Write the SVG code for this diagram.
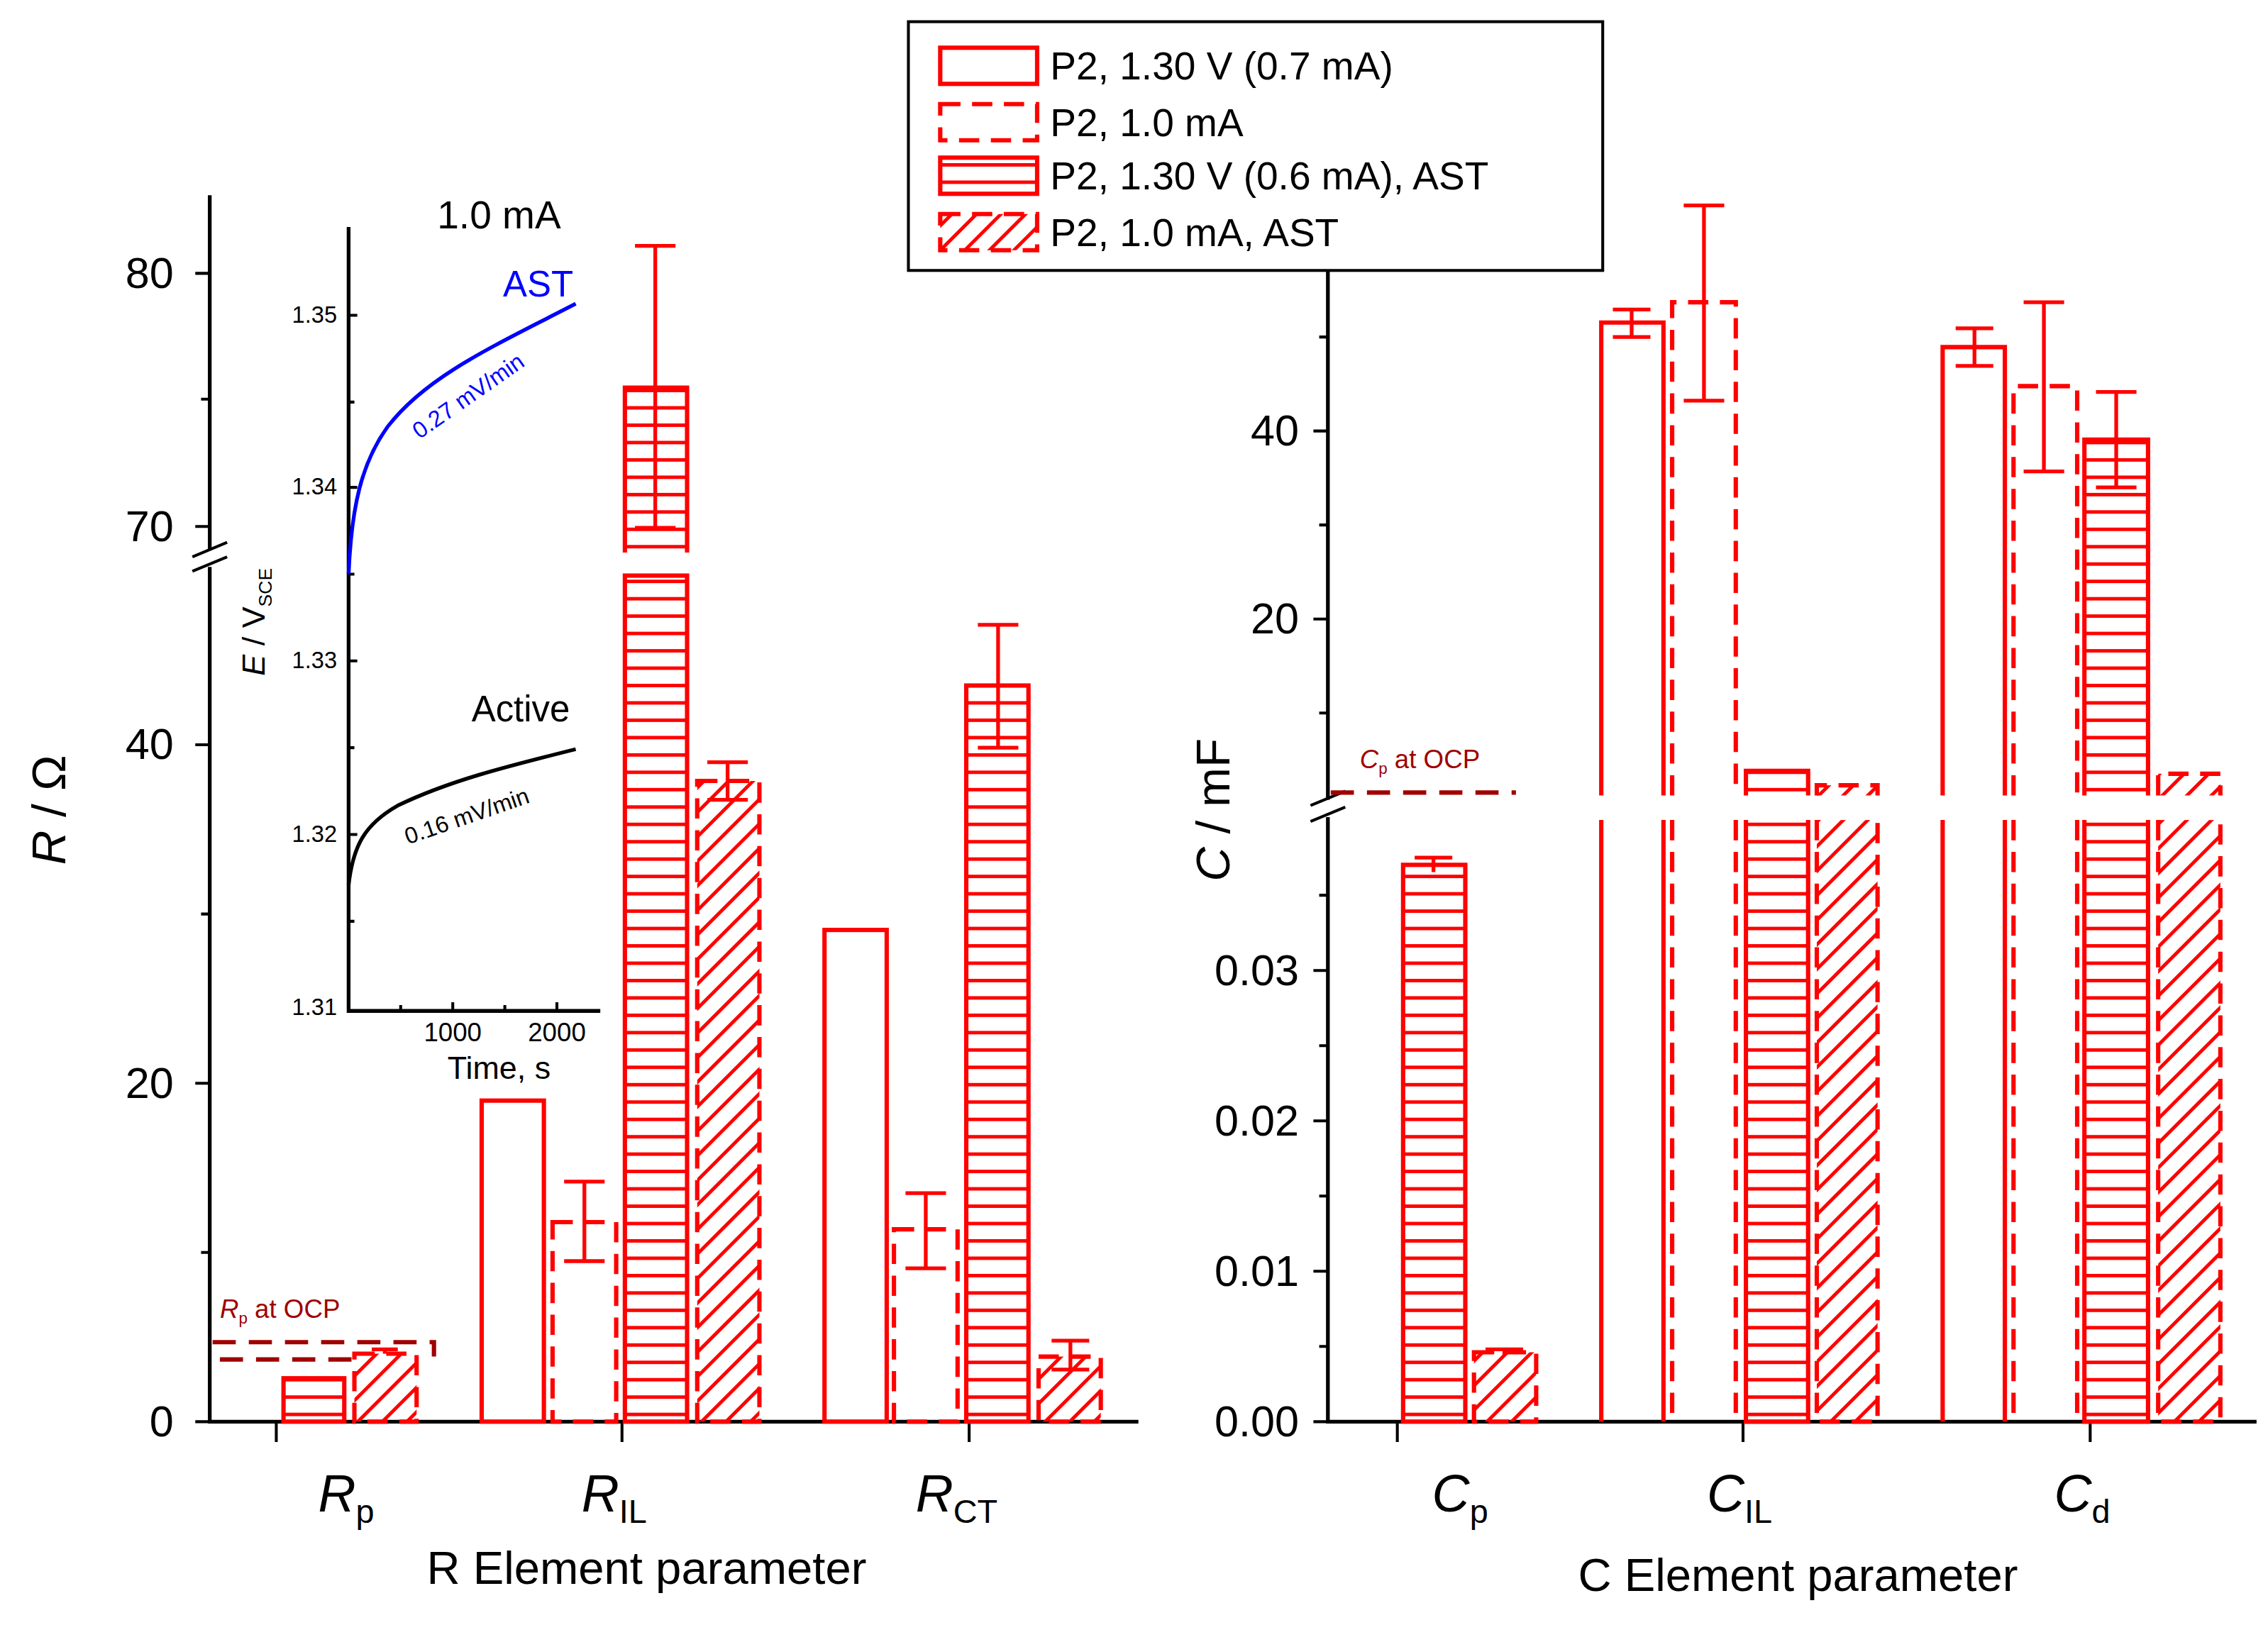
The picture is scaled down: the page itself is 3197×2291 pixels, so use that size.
<svg xmlns="http://www.w3.org/2000/svg" width="3197" height="2291" viewBox="0 0 3197 2291">
<style>
.ax{stroke:#000;stroke-width:2.6;fill:none}
.tk{stroke:#000;stroke-width:2;fill:none}
.b{stroke:#f00;stroke-width:3;fill:none}
.d{stroke:#f00;stroke-width:3;fill:none;stroke-dasharray:14 8}
.e{stroke:#f00;stroke-width:2.6;fill:none}
.ocp{stroke:#a00000;stroke-width:3;fill:none;stroke-dasharray:16 9}
.hh{fill:url(#hh)}
.dg{fill:url(#dg)}
text{font-family:"Liberation Sans",Arial,sans-serif}
.tl{font-size:30px;text-anchor:end}
.it{font-style:italic}
</style>
<defs>
<pattern id="hh" patternUnits="userSpaceOnUse" width="10" height="12"><line x1="0" y1="6" x2="10" y2="6" stroke="#f00" stroke-width="2.4"/></pattern>
<pattern id="dg" patternUnits="userSpaceOnUse" width="10" height="12" patternTransform="rotate(-45)"><line x1="0" y1="6" x2="10" y2="6" stroke="#f00" stroke-width="2.4"/></pattern>
</defs>
<rect width="3197" height="2291" fill="#fff"/>
<g transform="scale(2.039)">
<g id="left-axes">
<path class="ax" d="M145,135 V983 H787"/>
<path class="tk" d="M135,983H145M135,749H145M135,515H145M135,364H145M135,189H145M139,866H145M139,632H145M139,276H145"/>
<path class="tk" d="M191,983V997M430,983V997M670,983V997"/>
<rect x="136" y="380" width="20" height="12" fill="#fff"/>
<path class="tk" d="M133,385L157,375M133,395L157,385"/>
<text class="tl" x="120" y="993">0</text>
<text class="tl" x="120" y="759">20</text>
<text class="tl" x="120" y="525">40</text>
<text class="tl" x="120" y="374">70</text>
<text class="tl" x="120" y="199">80</text>
<text transform="translate(45,560) rotate(-90)" font-size="33" text-anchor="middle"><tspan class="it">R</tspan> / Ω</text>
<text x="220" y="1045" font-size="36" class="it">R<tspan font-size="23" dy="8" font-style="normal">p</tspan></text>
<text x="402" y="1045" font-size="36" class="it">R<tspan font-size="23" dy="8" font-style="normal">IL</tspan></text>
<text x="633" y="1045" font-size="36" class="it">R<tspan font-size="23" dy="8" font-style="normal">CT</tspan></text>
<text x="447" y="1095" font-size="32" text-anchor="middle">R Element parameter</text>
</g>
<g id="rp-ocp">
<path class="ocp" d="M147,928H300V938"/>
<path class="ocp" d="M152,940H245"/>
<text x="152" y="911" font-size="18" fill="#a00000"><tspan class="it">R</tspan><tspan font-size="11" dy="4">p</tspan><tspan dy="-4"> at OCP</tspan></text>
</g>
<g id="bars-rp">
<rect x="196" y="953" width="42" height="30" class="b hh"/>
<rect x="245" y="936" width="43" height="47" class="d dg"/>
<path class="e" d="M266,936V933M257,933H275"/>
</g>
<g id="bars-ril">
<rect x="333" y="761" width="43" height="222" class="b"/>
<rect x="382" y="845" width="44" height="138" class="d"/>
<path class="e" d="M404,817V872M390,817H418M390,872H418"/>
<rect x="432" y="268" width="43" height="114" class="hh"/>
<path class="b" d="M432,382V268H475V382"/>
<rect x="432" y="398" width="43" height="585" class="b hh"/>
<path class="e" d="M453,170V365M439,170H467M439,365H467"/>
<rect x="482" y="540" width="43" height="443" class="d dg"/>
<path class="e" d="M503,527V553M489,527H517M489,553H517"/>
</g>
<g id="bars-rct">
<rect x="570" y="643" width="43" height="340" class="b"/>
<rect x="618" y="850" width="44" height="133" class="d"/>
<path class="e" d="M640,825V877M626,825H654M626,877H654"/>
<rect x="668" y="474" width="43" height="509" class="b hh"/>
<path class="e" d="M690,432V517M676,432H704M676,517H704"/>
<rect x="718" y="938" width="43" height="45" class="d dg"/>
<path class="e" d="M740,927V947M727,927H753M727,947H753"/>
</g>
<g id="inset">
<path class="ax" d="M241,157V699H415" stroke-width="1.8"/>
<path class="tk" stroke-width="1.5" d="M241,218h6M241,337h6M241,457h6M241,577h6M241,278h4M241,397h4M241,517h4M241,637h4M313,699v-6M385,699v-6M277,699v-4M349,699v-4"/>
<g font-size="16" text-anchor="end">
<text x="233" y="223">1.35</text><text x="233" y="342">1.34</text><text x="233" y="462">1.33</text><text x="233" y="582">1.32</text><text x="233" y="702">1.31</text>
</g>
<text x="313" y="720" font-size="18" text-anchor="middle">1000</text>
<text x="385" y="720" font-size="18" text-anchor="middle">2000</text>
<text x="345" y="746" font-size="22" text-anchor="middle">Time, s</text>
<text transform="translate(183,430) rotate(-90)" font-size="22" text-anchor="middle"><tspan class="it">E</tspan> / V<tspan font-size="13" dy="5">SCE</tspan></text>
<path d="M241,397 C243,350 250,320 268,295 C295,260 340,240 398,210" stroke="#00f" stroke-width="2.6" fill="none"/>
<path d="M241,612 C244,585 252,570 275,557 C310,540 350,530 398,518" stroke="#000" stroke-width="2.6" fill="none"/>
<text x="345" y="158" font-size="27" text-anchor="middle">1.0 mA</text>
<text x="372" y="205" font-size="25" text-anchor="middle" fill="#00f">AST</text>
<text x="360" y="499" font-size="25" text-anchor="middle">Active</text>
<text transform="translate(290,304) rotate(-35)" font-size="16" fill="#00f">0.27 mV/min</text>
<text transform="translate(282,584) rotate(-19)" font-size="16">0.16 mV/min</text>
</g>
<g id="right-axes">
<path class="ax" d="M918,185V983H1560"/>
<path class="tk" d="M908,428H918M908,298H918M912,493H918M912,363H918M912,233H918M908,983H918M908,879H918M908,775H918M908,671H918M912,931H918M912,827H918M912,723H918M912,619H918"/>
<path class="tk" d="M966,983V997M1205,983V997M1445,983V997"/>
<rect x="909" y="553" width="20" height="12" fill="#fff"/>
<path class="tk" d="M906,557L930,547M906,568L930,558"/>
<text class="tl" x="898" y="438">20</text>
<text class="tl" x="898" y="308">40</text>
<text class="tl" x="898" y="993">0.00</text>
<text class="tl" x="898" y="889">0.01</text>
<text class="tl" x="898" y="785">0.02</text>
<text class="tl" x="898" y="681">0.03</text>
<text transform="translate(850,560) rotate(-90)" font-size="33" text-anchor="middle"><tspan class="it">C</tspan> / mF</text>
<text x="990" y="1045" font-size="36" class="it">C<tspan font-size="23" dy="8" font-style="normal">p</tspan></text>
<text x="1180" y="1045" font-size="36" class="it">C<tspan font-size="23" dy="8" font-style="normal">IL</tspan></text>
<text x="1420" y="1045" font-size="36" class="it">C<tspan font-size="23" dy="8" font-style="normal">d</tspan></text>
<text x="1243" y="1100" font-size="32" text-anchor="middle">C Element parameter</text>
</g>
<g id="cp-ocp">
<path class="ocp" d="M920,548H1048"/>
<text x="940" y="531" font-size="18" fill="#a00000"><tspan class="it">C</tspan><tspan font-size="11" dy="4">p</tspan><tspan dy="-4"> at OCP</tspan></text>
</g>
<g id="bars-cp">
<rect x="970" y="598" width="43" height="385" class="b hh"/>
<path class="e" d="M991,593V603M978,593H1004"/>
<rect x="1019" y="935" width="43" height="48" class="d dg"/>
<path class="e" d="M1040,933V937M1027,933H1053"/>
</g>
<g id="bars-cil">
<path class="b" d="M1107,550V223H1150V550M1107,567V983M1150,567V983"/>
<path class="e" d="M1128,214V233M1115,214H1141M1115,233H1141"/>
<path class="d" d="M1156,550V209H1200V550M1156,567V983M1200,567V983"/>
<path class="e" d="M1178,142V277M1164,142H1192M1164,277H1192"/>
<rect x="1207" y="533" width="43" height="17" class="hh"/>
<path class="b" d="M1207,550V533H1250V550"/>
<rect x="1207" y="567" width="43" height="416" class="hh"/>
<path class="b" d="M1207,567V983H1250V567"/>
<rect x="1256" y="543" width="42" height="7" class="dg"/>
<path class="d" d="M1256,550V543H1298V550"/>
<rect x="1256" y="567" width="42" height="416" class="dg"/>
<path class="d" d="M1256,567V983H1298V567"/>
</g>
<g id="bars-cd">
<path class="b" d="M1343,550V240H1386V550M1343,567V983M1386,567V983"/>
<path class="e" d="M1365,227V253M1352,227H1378M1352,253H1378"/>
<path class="d" d="M1392,550V267H1436V550M1392,567V983M1436,567V983"/>
<path class="e" d="M1413,209V326M1399,209H1427M1399,326H1427"/>
<rect x="1441" y="304" width="44" height="246" class="hh"/>
<path class="b" d="M1441,550V304H1485V550"/>
<rect x="1441" y="567" width="44" height="416" class="hh"/>
<path class="b" d="M1441,567V983H1485V567"/>
<path class="e" d="M1463,271V337M1449,271H1477M1449,337H1477"/>
<rect x="1492" y="535" width="43" height="15" class="dg"/>
<path class="d" d="M1492,550V535H1535V550"/>
<rect x="1492" y="567" width="43" height="416" class="dg"/>
<path class="d" d="M1492,567V983H1535V567"/>
</g>
<g id="legend">
<rect x="628" y="15" width="480" height="172" fill="#fff" stroke="#000" stroke-width="2"/>
<rect x="650" y="33" width="67" height="25" class="b"/>
<rect x="650" y="72" width="67" height="25" class="d"/>
<rect x="650" y="109" width="67" height="25" class="b hh"/>
<rect x="650" y="148" width="67" height="25" class="d dg"/>
<g font-size="27">
<text x="726" y="55">P2, 1.30 V (0.7 mA)</text>
<text x="726" y="94">P2, 1.0 mA</text>
<text x="726" y="131">P2, 1.30 V (0.6 mA), AST</text>
<text x="726" y="170">P2, 1.0 mA, AST</text>
</g>
</g>
</g>
</svg>
